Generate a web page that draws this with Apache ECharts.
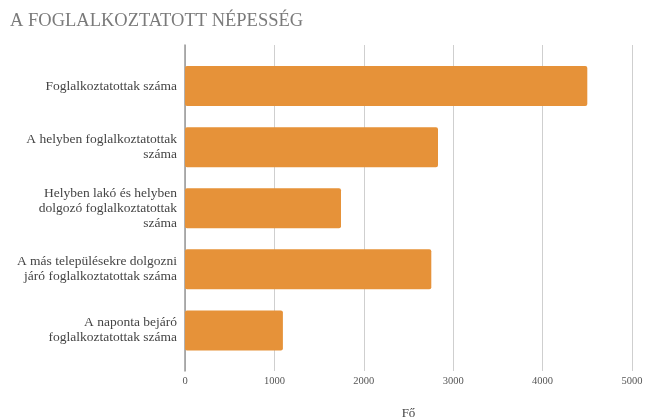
<!DOCTYPE html>
<html>
<head>
<meta charset="utf-8">
<script src="https://cdn.jsdelivr.net/npm/echarts@6/dist/echarts.min.js"></script>
<style>
  html, body { margin: 0; padding: 0; background: #fff; }
  #chart { width: 646px; height: 417px; }
</style>
</head>
<body>
<div id="chart"></div>
<script>
// adatok
const categories = [
  'Foglalkoztatottak száma',
  'A helyben foglalkoztatottak\nszáma',
  'Helyben lakó és helyben\ndolgozó foglalkoztatottak\nszáma',
  'A más településekre dolgozni\njáró foglalkoztatottak száma',
  'A naponta bejáró\nfoglalkoztatottak száma',
];
const values = [4500, 2830, 1745, 2755, 1095];
const axisMax = 5000;
const axisStep = 1000;

const serif = '"Liberation Serif", "DejaVu Serif", serif';

const chart = echarts.init(document.getElementById('chart'));
chart.setOption({
  animation: false,
  title: {
    text: 'A FOGLALKOZTATOTT NÉPESSÉG',
    left: 5,
    top: 7,
    textStyle: { fontFamily: serif, fontSize: 18.5, fontWeight: 'normal', color: '#7a7a7a' },
  },
  grid: [
    // bars
    { left: 185, right: 14, top: 55.5, height: 305.5, outerBoundsMode: 'none' },
    // axis frame (line + gridlines reach a bit past the bars)
    { left: 185, right: 14, top: 45, height: 326, outerBoundsMode: 'none' },
  ],
  xAxis: [
    { gridIndex: 0, type: 'value', min: 0, max: axisMax, show: false },
    {
      gridIndex: 1,
      type: 'value',
      min: 0,
      max: axisMax,
      interval: axisStep,
      name: 'Fő',
      nameLocation: 'middle',
      nameGap: 36,
      nameTextStyle: { fontFamily: serif, fontSize: 13, color: '#444' },
      axisLine: { show: false },
      axisTick: { show: false },
      axisLabel: {
        fontFamily: serif,
        fontSize: 10.5,
        color: '#555',
        margin: 5,
        formatter: (v) => String(v),
      },
      splitLine: { lineStyle: { color: '#cfcfcf', width: 1 } },
    },
  ],
  yAxis: [
    {
      gridIndex: 0,
      type: 'category',
      inverse: true,
      data: categories,
      axisLine: { show: false },
      axisTick: { show: false },
      axisLabel: {
        fontFamily: serif,
        fontSize: 13.5,
        lineHeight: 15,
        color: '#444',
        align: 'right',
        margin: 8,
      },
    },
    {
      gridIndex: 1,
      type: 'value',
      axisLine: { show: true, lineStyle: { color: '#999', width: 1.5 } },
      axisTick: { show: false },
      axisLabel: { show: false },
      splitLine: { show: false },
    },
  ],
  series: [
    {
      type: 'bar',
      xAxisIndex: 0,
      yAxisIndex: 0,
      data: values,
      barWidth: 40,
      itemStyle: { color: '#e69239', borderRadius: 2 },
    },
  ],
});
</script>
</body>
</html>
